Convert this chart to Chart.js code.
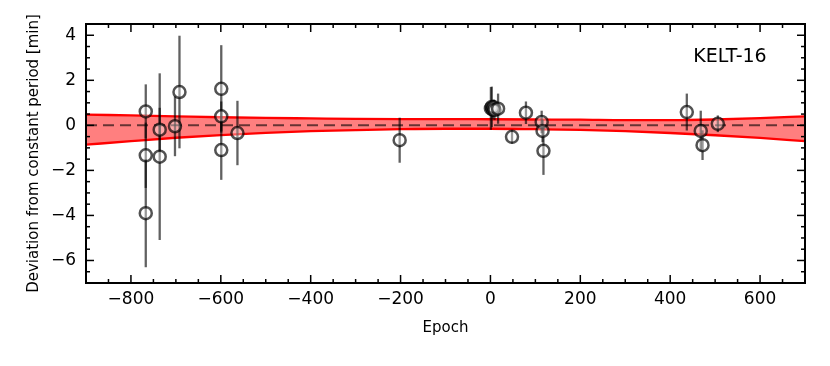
<!DOCTYPE html>
<html>
<head>
<meta charset="utf-8">
<script src="https://cdn.jsdelivr.net/npm/chart.js@4.4.0/dist/chart.umd.min.js"></script>
<style>
  body { margin: 0; background: #fff; }
  #oc-chart { display: block; }
</style>
</head>
<body>
<canvas id="oc-chart" width="830" height="366"></canvas>
<script>
// Transit timing residuals (O-C) for KELT-16
const epochs = [-767, -767, -767, -736, -736, -702, -692, -599, -599, -599, -563, -202,
                1, 3, 5, 7, 9, 17, 48, 79, 114, 116, 118, 437, 468, 472, 506];
const deviations = [0.62, -1.33, -3.9, -0.19, -1.39, -0.04, 1.48, 1.62, 0.40, -1.10, -0.34, -0.66,
                    0.75, 0.82, 0.70, 0.80, 0.68, 0.74, -0.51, 0.56, 0.15, -0.25, -1.13, 0.59, -0.25, -0.88, 0.07];
const errors = [1.2, 1.45, 2.4, 0.97, 3.7, 1.33, 2.5, 1.94, 0.66, 1.32, 1.43, 1.0,
                0.95, 0.9, 0.4, 0.35, 0.45, 0.67, 0.3, 0.5, 0.5, 0.5, 1.07, 0.82, 0.9, 0.66, 0.37];

// uncertainty band of the fitted ephemeris
const bandEpochs = [-900, -800, -700, -600, -500, -400, -300, -200, -100, 0, 100, 200, 300, 400, 500, 600, 700];
const bandUpper = [0.48, 0.44, 0.40, 0.36, 0.33, 0.31, 0.29, 0.28, 0.28, 0.27, 0.26, 0.25, 0.23, 0.23, 0.26, 0.32, 0.40];
const bandLower = [-0.86, -0.70, -0.55, -0.43, -0.33, -0.26, -0.21, -0.17, -0.15, -0.15, -0.17, -0.20, -0.26, -0.34, -0.44, -0.56, -0.70];

const xTicks = [-800, -600, -400, -200, 0, 200, 400, 600];
const yTicks = [-6, -4, -2, 0, 2, 4];
const xMin = -900, xMax = 700, yMin = -7, yMax = 4.5;
const xMinorStep = 50, yMinorStep = 0.5;

const minus = v => (v < 0 ? '\u2212' + Math.abs(v) : String(v));

const framePlugin = {
    id: 'frame',
    beforeDatasetDraw(chart, args) {
        if (args.index !== 3) return;
        // error bars under the circles
        const ctx = chart.ctx;
        const xs = chart.scales.x, ys = chart.scales.y;
        ctx.save();
        ctx.strokeStyle = 'rgba(0,0,0,0.62)';
        ctx.lineWidth = 2.3;
        epochs.forEach((e, i) => {
            const px = xs.getPixelForValue(e);
            ctx.beginPath();
            ctx.moveTo(px, ys.getPixelForValue(deviations[i] + errors[i]));
            ctx.lineTo(px, ys.getPixelForValue(deviations[i] - errors[i]));
            ctx.stroke();
        });
        ctx.restore();
    },
    afterDraw(chart) {
        const ctx = chart.ctx;
        const a = chart.chartArea;
        const xs = chart.scales.x, ys = chart.scales.y;
        ctx.save();
        ctx.strokeStyle = '#000';
        ctx.lineWidth = 1.5;
        const tick = (x1, y1, x2, y2) => {
            ctx.beginPath(); ctx.moveTo(x1, y1); ctx.lineTo(x2, y2); ctx.stroke();
        };
        for (let v = xMin; v <= xMax; v += xMinorStep) {
            const px = xs.getPixelForValue(v);
            const len = xTicks.includes(v) ? 8 : 4;
            tick(px, a.bottom, px, a.bottom - len);
            tick(px, a.top, px, a.top + len);
        }
        for (let v = yMin; v <= yMax; v += yMinorStep) {
            const py = ys.getPixelForValue(v);
            const len = yTicks.includes(v) ? 8 : 4;
            tick(a.left, py, a.left + len, py);
            tick(a.right, py, a.right - len, py);
        }
        ctx.lineWidth = 2;
        ctx.strokeRect(a.left, a.top, a.right - a.left, a.bottom - a.top);

        ctx.fillStyle = '#000';
        ctx.font = '19px "DejaVu Sans"';
        ctx.textAlign = 'center';
        ctx.textBaseline = 'middle';
        ctx.fillText('KELT-16', a.right - 75, a.top + 33);
        ctx.restore();
    }
};

const ctx = document.getElementById('oc-chart').getContext('2d');
new Chart(ctx, {
    type: 'scatter',
    data: {
        datasets: [{
            type: 'line',
            data: bandEpochs.map((e, i) => ({ x: e, y: bandUpper[i] })),
            borderColor: '#ff0000',
            borderWidth: 2.3,
            backgroundColor: 'rgba(255,0,0,0.5)',
            pointRadius: 0,
            cubicInterpolationMode: 'monotone',
            fill: '+1',
            order: 3
        }, {
            type: 'line',
            data: bandEpochs.map((e, i) => ({ x: e, y: bandLower[i] })),
            borderColor: '#ff0000',
            borderWidth: 2.3,
            pointRadius: 0,
            cubicInterpolationMode: 'monotone',
            fill: false,
            order: 3
        }, {
            type: 'line',
            data: [{ x: xMin, y: 0 }, { x: xMax, y: 0 }],
            borderColor: 'rgba(0,0,0,0.6)',
            borderWidth: 2,
            borderDash: [11, 6],
            pointRadius: 0,
            fill: false,
            order: 2
        }, {
            data: epochs.map((e, i) => ({ x: e, y: deviations[i] })),
            pointRadius: 6,
            pointBorderWidth: 2.5,
            borderColor: 'rgba(0,0,0,0.68)',
            backgroundColor: 'rgba(255,255,255,0.35)',
            order: 1
        }]
    },
    options: {
        responsive: false,
        animation: false,
        layout: { padding: { top: 24, right: 25, left: 0, bottom: 0 } },
        plugins: { legend: { display: false }, tooltip: { enabled: false } },
        scales: {
            x: {
                type: 'linear',
                min: xMin,
                max: xMax,
                afterBuildTicks: s => { s.ticks = xTicks.map(v => ({ value: v })); },
                afterFit: s => { s.height = 83; },
                grid: { display: false, drawTicks: false },
                border: { display: false },
                ticks: {
                    color: '#000',
                    padding: 6,
                    maxRotation: 0,
                    font: { family: 'DejaVu Sans', size: 17 },
                    callback: v => minus(v)
                },
                title: {
                    display: true,
                    text: 'Epoch',
                    color: '#000',
                    font: { family: 'DejaVu Sans', size: 15 },
                    padding: { top: 0, bottom: 29 }
                }
            },
            y: {
                min: yMin,
                max: yMax,
                afterBuildTicks: s => { s.ticks = yTicks.map(v => ({ value: v })); },
                afterFit: s => { s.width = 86; },
                grid: { display: false, drawTicks: false },
                border: { display: false },
                ticks: {
                    color: '#000',
                    padding: 10,
                    font: { family: 'DejaVu Sans', size: 17 },
                    callback: v => minus(v)
                },
                title: {
                    display: true,
                    text: 'Deviation from constant period [min]',
                    color: '#000',
                    font: { family: 'DejaVu Sans', size: 15 },
                    padding: { top: 25, bottom: 0 }
                }
            }
        }
    },
    plugins: [framePlugin]
});
</script>
</body>
</html>
